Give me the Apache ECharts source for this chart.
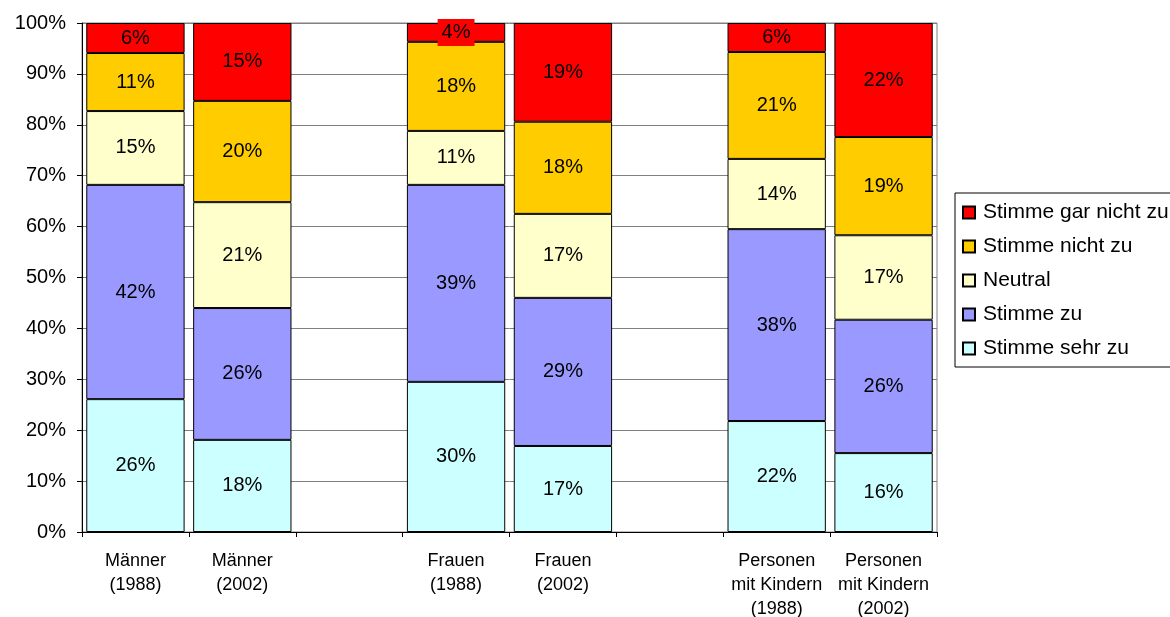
<!DOCTYPE html>
<html>
<head>
<meta charset="utf-8">
<script src="https://cdn.jsdelivr.net/npm/echarts@6/dist/echarts.min.js"></script>
<style>
html,body{margin:0;padding:0;background:#fff;}
#chart{width:1170px;height:617px;}
</style>
</head>
<body>
<div id="chart"></div>
<script>
var categories = ['Männer\n(1988)', 'Männer\n(2002)', '', 'Frauen\n(1988)', 'Frauen\n(2002)', '', 'Personen\nmit Kindern\n(1988)', 'Personen\nmit Kindern\n(2002)'];
var stimmeSehrZu     = [26.1, 18.1, null, 29.5, 16.9, null, 21.8, 15.5];
var stimmeZu         = [42.1, 25.9, null, 38.7, 29.1, null, 37.7, 26.2];
var neutral          = [14.5, 20.8, null, 10.6, 16.5, null, 13.8, 16.6];
var stimmeNichtZu    = [11.4, 19.9, null, 17.5, 18.1, null, 21.0, 19.3];
var stimmeGarNichtZu = [5.9, 15.3, null, 3.7, 19.4, null, 5.7, 22.4];
var yTicks = [0, 10, 20, 30, 40, 50, 60, 70, 80, 90, 100];

var FONT = '"Liberation Sans", Arial, sans-serif';

function mk(name, data, color, labelBg) {
  return {
    name: name,
    type: 'bar',
    stack: 'total',
    data: data,
    barWidth: '92%',
    itemStyle: { color: color, borderColor: '#000', borderWidth: 1 },
    label: {
      show: true,
      position: 'inside',
      color: '#000',
      fontFamily: FONT,
      fontSize: 20,
      backgroundColor: labelBg || 'transparent',
      padding: labelBg ? [4, 4, 3, 4] : 0,
      formatter: function (p) { return Math.round(p.value) + '%'; }
    },
    emphasis: { disabled: true }
  };
}

var chart = echarts.init(document.getElementById('chart'), null, { renderer: 'canvas' });
chart.setOption({
  animation: false,
  backgroundColor: '#fff',
  textStyle: { fontFamily: FONT },
  grid: { left: 82, right: 233, top: 23, bottom: 85, show: true, borderColor: '#808080', borderWidth: 1, backgroundColor: 'transparent', containLabel: false, outerBoundsMode: 'none' },
  legend: {
    orient: 'vertical',
    left: 955,
    top: 193,
    data: ['Stimme gar nicht zu', 'Stimme nicht zu', 'Neutral', 'Stimme zu', 'Stimme sehr zu'],
    icon: 'rect',
    itemWidth: 12,
    itemHeight: 12,
    itemGap: 13,
    padding: [9, 20, 8, 7],
    borderColor: '#000',
    borderWidth: 1,
    textStyle: { fontFamily: FONT, fontSize: 21, color: '#000', padding: [0, 0, 0, 3] },
    selectedMode: false
  },
  xAxis: {
    type: 'category',
    data: categories,
    axisLine: { show: true, lineStyle: { color: '#000', width: 1 } },
    axisTick: { show: true, interval: 0, alignWithLabel: false, length: 5, lineStyle: { color: '#000' } },
    axisLabel: { interval: 0, color: '#000', fontFamily: FONT, fontSize: 18, lineHeight: 24, margin: 17 },
    splitLine: { show: false }
  },
  yAxis: {
    type: 'value',
    min: yTicks[0],
    max: yTicks[yTicks.length - 1],
    interval: yTicks[1] - yTicks[0],
    axisLine: { show: true, lineStyle: { color: '#000', width: 1 } },
    axisTick: { show: true, length: 5, lineStyle: { color: '#000' } },
    axisLabel: { color: '#000', fontFamily: FONT, fontSize: 20, margin: 16, formatter: '{value}%' },
    splitLine: { show: true, lineStyle: { color: '#808080', width: 1 } }
  },
  series: [
    mk('Stimme sehr zu', stimmeSehrZu, '#CCFFFF'),
    mk('Stimme zu', stimmeZu, '#9999FF'),
    mk('Neutral', neutral, '#FFFFCC'),
    mk('Stimme nicht zu', stimmeNichtZu, '#FFCC00'),
    mk('Stimme gar nicht zu', stimmeGarNichtZu, '#FF0000', '#FF0000')
  ]
});
</script>
</body>
</html>
